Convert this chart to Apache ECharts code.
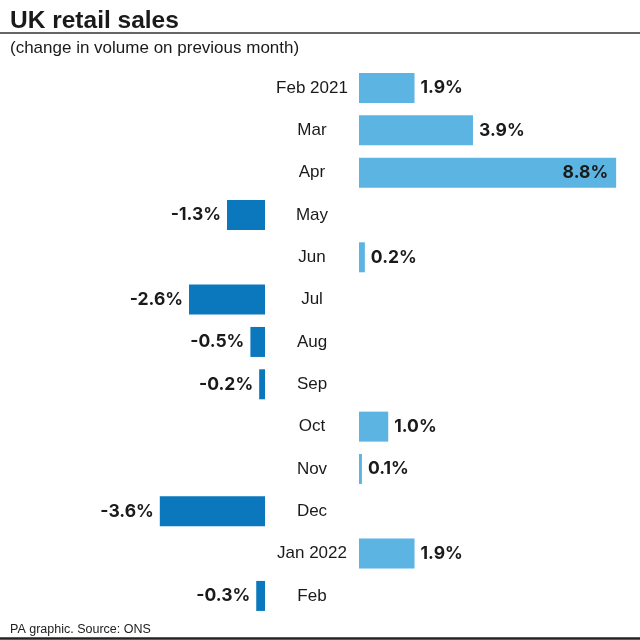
<!DOCTYPE html>
<html>
<head>
<meta charset="utf-8">
<script src="https://cdn.jsdelivr.net/npm/echarts@6/dist/echarts.min.js"></script>
<style>html,body{margin:0;padding:0;background:#fff}#c{width:640px;height:640px}</style>
</head>
<body>
<div id="c"></div>
<script>
const categories = ['Feb 2021','Mar','Apr','May','Jun','Jul','Aug','Sep','Oct','Nov','Dec','Jan 2022','Feb'];
const values = [1.9, 3.9, 8.8, -1.3, 0.2, -2.6, -0.5, -0.2, 1.0, 0.1, -3.6, 1.9, -0.3];
const axisMax = 9;

const FONT = 'Liberation Sans';
const VFONT = 'Inter';
const POS = '#5cb4e2';
const NEG = '#0b78bd';
const TXT = '#1a1a1a';
const fmt = p => p.value.toFixed(1) + '%';

const posData = values.map(v => v > 0 ? (v >= 8 ? {value: v, label: {position: 'insideRight', distance: 8}} : v) : '-');
const negData = values.map(v => v < 0 ? v : '-');

const chart = echarts.init(document.getElementById('c'), null, {renderer: 'canvas'});
chart.setOption({
  animation: false,
  backgroundColor: '#fff',
  title: [
    {text: 'UK retail sales', left: 5, top: 4, textStyle: {fontFamily: FONT, fontSize: 24.5, fontWeight: 'bold', color: '#1a1a1a'}},
    {text: '(change in volume on previous month)', left: 5, top: 35, textStyle: {fontFamily: FONT, fontSize: 17, fontWeight: 'normal', color: '#1a1a1a'}},
    {text: 'PA graphic. Source: ONS', left: 5, top: 618, textStyle: {fontFamily: FONT, fontSize: 12.5, fontWeight: 'normal', color: '#222'}}
  ],
  graphic: [
    {type: 'line', shape: {x1: 0, y1: 33, x2: 640, y2: 33}, style: {stroke: '#333', lineWidth: 1.5}},
    {type: 'line', shape: {x1: 0, y1: 638.5, x2: 640, y2: 638.5}, style: {stroke: '#222', lineWidth: 2.5}}
  ],
  grid: [
    {left: 2, width: 263, top: 66.8, height: 550.3},
    {left: 359, width: 263, top: 66.8, height: 550.3}
  ],
  xAxis: [
    {gridIndex: 0, type: 'value', min: -axisMax, max: 0, show: false},
    {gridIndex: 1, type: 'value', min: 0, max: axisMax, show: false}
  ],
  yAxis: [
    {gridIndex: 0, type: 'category', data: categories, inverse: true, show: false},
    {gridIndex: 1, type: 'category', data: categories, inverse: true, position: 'left',
      axisLine: {show: false}, axisTick: {show: false}, splitLine: {show: false},
      axisLabel: {align: 'center', margin: 47, fontFamily: FONT, fontSize: 17, color: TXT}}
  ],
  series: [
    {type: 'bar', xAxisIndex: 0, yAxisIndex: 0, data: negData, barWidth: 30, itemStyle: {color: NEG},
      label: {show: true, position: 'left', distance: 6, formatter: fmt, fontFamily: VFONT, fontSize: 17.5, fontWeight: 'bold', color: TXT}},
    {type: 'bar', xAxisIndex: 1, yAxisIndex: 1, data: posData, barWidth: 30, itemStyle: {color: POS},
      label: {show: true, position: 'right', distance: 6, formatter: fmt, fontFamily: VFONT, fontSize: 17.5, fontWeight: 'bold', color: TXT}}
  ]
});
</script>
</body>
</html>
